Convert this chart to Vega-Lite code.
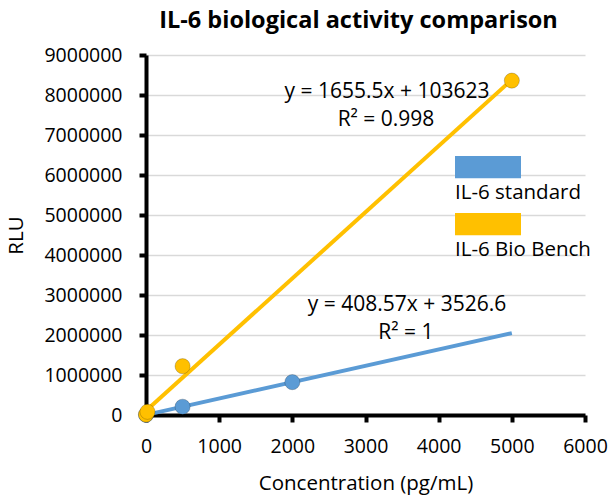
{
  "$schema": "https://vega.github.io/schema/vega-lite/v6.json",
  "width": 439,
  "height": 360,
  "autosize": {"type": "none"},
  "padding": {"left": 146, "top": 55, "right": 28, "bottom": 82},
  "background": "white",
  "config": {
    "font": "Open Sans",
    "view": {"stroke": null},
    "axis": {"labelFont": "Open Sans", "titleFont": "Open Sans"}
  },
  "title": {
    "text": "IL-6 biological activity comparison",
    "font": "Open Sans",
    "fontSize": 23.5,
    "fontWeight": "bold",
    "color": "#000000",
    "anchor": "middle",
    "dx": -7,
    "offset": 13
  },
  "datasets": {
    "points": [
      {"conc": 0, "rlu": 5000, "series": "IL-6 standard"},
      {"conc": 500, "rlu": 207000, "series": "IL-6 standard"},
      {"conc": 2000, "rlu": 821000, "series": "IL-6 standard"},
      {"conc": 0, "rlu": 10000, "series": "IL-6 Bio Bench"},
      {"conc": 20, "rlu": 80000, "series": "IL-6 Bio Bench"},
      {"conc": 500, "rlu": 1220000, "series": "IL-6 Bio Bench"},
      {"conc": 5000, "rlu": 8360000, "series": "IL-6 Bio Bench"}
    ],
    "trend": [
      {"conc": 0, "rlu": 3527, "series": "IL-6 standard"},
      {"conc": 5000, "rlu": 2046377, "series": "IL-6 standard"},
      {"conc": 0, "rlu": 103623, "series": "IL-6 Bio Bench"},
      {"conc": 5000, "rlu": 8381123, "series": "IL-6 Bio Bench"}
    ],
    "labels": [
      {"conc": 3294, "rlu": 8075000, "text": "y = 1655.5x + 103623"},
      {"conc": 3280, "rlu": 7375000, "text": "R² = 0.998"},
      {"conc": 3567, "rlu": 2750000, "text": "y = 408.57x + 3526.6"},
      {"conc": 3553, "rlu": 2050000, "text": "R² = 1"}
    ]
  },
  "encoding": {
    "x": {
      "field": "conc", "type": "quantitative",
      "scale": {"domain": [0, 6000], "nice": false},
      "axis": {
        "title": "Concentration (pg/mL)",
        "titleFontSize": 20.5, "titleFontWeight": "normal", "titleColor": "#000", "titlePadding": 18,
        "values": [0, 1000, 2000, 3000, 4000, 5000, 6000],
        "tickCount": 20,
        "format": "d",
        "labelFontSize": 19.5, "labelColor": "#000", "labelPadding": 15,
        "domainColor": "#000", "domainWidth": 4,
        "tickColor": "#000", "tickWidth": 4, "tickSize": 7,
        "grid": false, "labelFlush": false, "labelOverlap": false
      }
    },
    "y": {
      "field": "rlu", "type": "quantitative",
      "scale": {"domain": [0, 9000000], "nice": false},
      "axis": {
        "title": "RLU",
        "titleFontSize": 20.5, "titleFontWeight": "normal", "titleColor": "#000", "titlePadding": 17,
        "values": [0, 1000000, 2000000, 3000000, 4000000, 5000000, 6000000, 7000000, 8000000, 9000000],
        "tickCount": 20,
        "format": "d",
        "labelFontSize": 19.5, "labelColor": "#000", "labelPadding": 17,
        "domainColor": "#000", "domainWidth": 4,
        "tickColor": "#000", "tickWidth": 4, "tickSize": 7,
        "grid": true, "gridColor": "#d9d9d9", "gridWidth": 1.5,
        "labelOverlap": false
      }
    }
  },
  "layer": [
    {
      "data": {"name": "trend"},
      "mark": {"type": "line", "strokeWidth": 4, "clip": false},
      "encoding": {
        "color": {
          "field": "series", "type": "nominal",
          "scale": {"domain": ["IL-6 standard", "IL-6 Bio Bench"], "range": ["#5b9bd5", "#ffc000"]},
          "legend": {
            "title": null,
            "orient": "none",
            "legendX": 309,
            "legendY": 105,
            "symbolType": "M-1,-1.12 L1,-1.12 L1,-0.45 L-1,-0.45 Z",
            "symbolSize": 4356,
            "symbolStrokeWidth": 0,
            "symbolOpacity": 1,
            "labelOffset": -66,
            "labelFontSize": 20.5,
            "labelColor": "#000",
            "labelBaseline": "middle",
            "rowPadding": 9,
            "labelLimit": 300
          }
        },
        "detail": {"field": "series"}
      }
    },
    {
      "data": {"name": "points"},
      "mark": {"type": "circle", "size": 230, "opacity": 1, "stroke": "#00000033", "strokeWidth": 1, "clip": false},
      "encoding": {
        "color": {"field": "series", "type": "nominal"}
      }
    },
    {
      "data": {"name": "labels"},
      "mark": {"type": "text", "fontSize": 21, "font": "Open Sans", "color": "#000", "align": "center", "baseline": "middle"},
      "encoding": {
        "text": {"field": "text"}
      }
    },
    {
      "data": {"values": [{}]},
      "mark": {"type": "point", "shape": "triangle-up", "filled": true, "color": "#000", "size": 220, "opacity": 1, "yOffset": 7, "zindex": 2, "clip": false},
      "encoding": {
        "x": {"datum": 0, "type": "quantitative"},
        "y": {"datum": 9000000, "type": "quantitative"}
      }
    },
    {
      "data": {"values": [{}]},
      "mark": {"type": "point", "shape": "triangle-right", "filled": true, "color": "#000", "size": 220, "opacity": 1, "xOffset": -3, "zindex": 2, "clip": false},
      "encoding": {
        "x": {"datum": 6000, "type": "quantitative"},
        "y": {"datum": 0, "type": "quantitative"}
      }
    }
  ]
}
